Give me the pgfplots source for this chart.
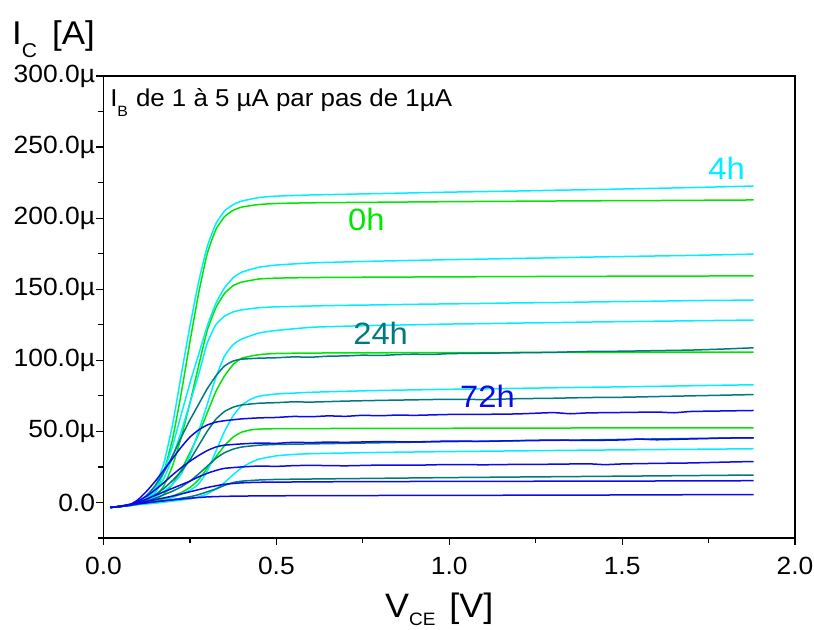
\documentclass[border=0pt]{standalone}
\usepackage{pgfplots}
\pgfplotsset{compat=1.18}
\usepackage{fontspec}
\setmainfont[FakeStretch=1.06]{Liberation Sans}
\definecolor{cgreen}{RGB}{0,230,0}
\definecolor{ccyan}{RGB}{0,238,255}
\definecolor{cteal}{RGB}{0,122,128}
\definecolor{cblue}{RGB}{10,10,235}
\begin{document}
\begin{tikzpicture}
\begin{axis}[
  at={(0,0)}, anchor=south west,
  scale only axis, width=691.5bp, height=462bp,
  xmin=0, xmax=2, ymin=-25, ymax=300,
  xtick={0,0.5,1,1.5,2}, xticklabels={0.0,0.5,1.0,1.5,2.0},
  ytick={0,50,100,150,200,250,300},
  yticklabels={0.0,50.0µ,100.0µ,150.0µ,200.0µ,250.0µ,300.0µ},
  minor xtick={0.25,0.75,1.25,1.75},
  minor ytick={-25,25,75,125,175,225,275},
  tick pos=left, tick align=outside,
  major tick length=7bp, minor tick length=5bp,
  tick style={black, line width=1.2bp},
  axis line style={line width=1.3bp},
  tick label style={font=\fontsize{25}{28}\selectfont},
  yticklabel style={xshift=2bp},
  xticklabel style={yshift=-9bp},
  xlabel={V\raisebox{-8bp}{\fontsize{18}{18}\selectfont CE}\hspace{14bp}[V]},
  xlabel style={at={(axis description cs:0.407,0)}, anchor=base west, yshift=-79bp, inner sep=0pt, font=\fontsize{34}{36}\selectfont},
  ylabel={I\raisebox{-13bp}{\fontsize{20}{20}\selectfont C}\hspace{15bp}[A]},
  ylabel style={at={(axis description cs:0,1)}, rotate=-90, anchor=base west, xshift=-91.5bp, yshift=31bp, inner sep=0pt, font=\fontsize{33}{35}\selectfont},
  every axis plot/.append style={line width=1.5bp, no marks, line join=round, smooth, tension=0.3},
]
% ---------- 0h (green) ----------
\addplot[cgreen] coordinates {(0.02,-3.5)(0.05,-2.8)(0.08,-2)(0.10,-1)(0.125,1.5)(0.15,7)(0.175,22)(0.20,45)(0.225,77)(0.25,113)(0.275,147)(0.30,175)(0.325,192)(0.35,201)(0.375,205.5)(0.40,207.8)(0.45,209.6)(0.50,210.3)(0.60,210.8)(0.80,211.2)(1.00,211.6)(1.20,211.9)(1.40,212.2)(1.60,212.4)(1.88,212.8)};
\addplot[cgreen] coordinates {(0.02,-3.5)(0.05,-2.8)(0.08,-2)(0.10,-1.2)(0.125,0.5)(0.15,4)(0.175,12)(0.20,26)(0.225,46)(0.25,70)(0.275,96)(0.30,121)(0.325,137)(0.35,147)(0.375,152.5)(0.40,155)(0.45,157.2)(0.50,157.8)(0.60,158.2)(0.80,158.5)(1.00,158.7)(1.20,158.9)(1.40,159.1)(1.60,159.2)(1.88,159.4)};
\addplot[cgreen] coordinates {(0.02,-3.5)(0.05,-2.8)(0.08,-2)(0.10,-1.2)(0.125,0)(0.15,2)(0.175,6)(0.20,13)(0.225,23)(0.25,35)(0.275,48)(0.30,63)(0.325,78)(0.35,89)(0.375,97)(0.40,101.5)(0.45,104)(0.50,104.8)(0.60,105.1)(0.80,105.3)(1.00,105.4)(1.20,105.5)(1.40,105.6)(1.60,105.7)(1.88,105.8)};
\addplot[cgreen] coordinates {(0.02,-3.5)(0.05,-2.8)(0.08,-2)(0.10,-1.3)(0.125,-0.3)(0.15,1)(0.175,2.5)(0.20,4.5)(0.225,7)(0.25,10.5)(0.275,16)(0.30,24)(0.325,32)(0.35,40)(0.375,46)(0.40,49.5)(0.425,51)(0.45,51.6)(0.50,51.9)(0.60,52)(0.80,52.1)(1.00,52.2)(1.20,52.3)(1.40,52.4)(1.88,52.5)};
% ---------- 4h (cyan) ----------
\addplot[ccyan] coordinates {(0.02,-3.5)(0.05,-2.8)(0.08,-1.8)(0.10,-0.5)(0.125,3)(0.15,11)(0.175,28)(0.20,55)(0.225,90)(0.25,124)(0.275,155)(0.30,180)(0.325,196)(0.35,205)(0.375,209.5)(0.40,212)(0.45,214.5)(0.50,215.5)(0.60,216.3)(0.70,216.8)(0.80,217.3)(0.90,217.8)(1.00,218.3)(1.10,218.7)(1.20,219.1)(1.30,219.6)(1.40,220)(1.50,220.5)(1.60,221)(1.70,221.5)(1.80,222.1)(1.88,222.6)};
\addplot[ccyan] coordinates {(0.02,-3.5)(0.05,-2.8)(0.08,-1.8)(0.10,-0.5)(0.125,2.5)(0.15,9)(0.175,22)(0.20,40)(0.225,62)(0.25,84)(0.275,104)(0.30,124)(0.325,140)(0.35,151)(0.375,158)(0.40,162)(0.45,165.5)(0.50,167)(0.60,168.5)(0.70,169.2)(0.80,169.8)(0.90,170.3)(1.00,170.8)(1.10,171.2)(1.20,171.7)(1.30,172.1)(1.40,172.6)(1.50,173)(1.60,173.4)(1.70,173.8)(1.80,174.3)(1.88,174.7)};
\addplot[ccyan] coordinates {(0.02,-3.5)(0.05,-2.8)(0.08,-1.8)(0.10,-0.5)(0.125,2)(0.15,7)(0.175,17)(0.20,32)(0.225,50)(0.25,70)(0.275,90)(0.30,112)(0.325,125)(0.35,131)(0.375,134)(0.40,135.5)(0.45,137)(0.50,137.6)(0.60,138.2)(0.70,138.7)(0.80,139)(0.90,139.4)(1.00,139.7)(1.10,140)(1.20,140.4)(1.30,140.6)(1.40,141)(1.50,141.3)(1.60,141.6)(1.70,142)(1.80,142.2)(1.88,142.4)};
\addplot[ccyan] coordinates {(0.02,-3.5)(0.05,-2.8)(0.08,-2)(0.10,-1)(0.125,1)(0.15,4)(0.175,8)(0.20,13)(0.225,20)(0.25,33)(0.275,50)(0.30,69)(0.325,88)(0.35,103)(0.375,111)(0.40,115)(0.45,119.2)(0.50,121)(0.60,123.2)(0.70,124)(0.80,124.6)(0.90,125)(1.00,125.5)(1.10,125.8)(1.20,126.2)(1.30,126.5)(1.40,126.9)(1.50,127.2)(1.60,127.5)(1.70,127.8)(1.80,128.1)(1.88,128.3)};
\addplot[ccyan] coordinates {(0.02,-3.5)(0.05,-2.8)(0.08,-2)(0.10,-1.2)(0.15,0)(0.175,1.5)(0.20,3.5)(0.225,6)(0.25,8.5)(0.275,13)(0.30,22)(0.325,36)(0.35,50)(0.375,61)(0.40,68.5)(0.425,72.5)(0.45,74.8)(0.50,76.3)(0.60,77.5)(0.70,78.2)(0.80,78.8)(0.90,79.2)(1.00,79.6)(1.20,80.3)(1.40,81)(1.60,81.7)(1.80,82.5)(1.88,82.8)};
\addplot[ccyan] coordinates {(0.02,-3.5)(0.05,-2.8)(0.08,-2)(0.10,-1.5)(0.15,-0.5)(0.20,1)(0.25,2.5)(0.275,4)(0.30,6)(0.325,9.5)(0.35,14)(0.375,19.5)(0.40,24.5)(0.425,28)(0.45,30.5)(0.50,32.8)(0.55,33.8)(0.60,34.3)(0.70,34.8)(0.80,35.2)(0.90,35.5)(1.00,35.8)(1.20,36.3)(1.40,36.8)(1.60,37.2)(1.80,37.6)(1.88,37.8)};
% ---------- 24h (teal) ----------
\addplot[cteal] coordinates {(0.02,-3.5)(0.05,-2.8)(0.08,-1.5)(0.10,0.5)(0.125,5)(0.15,12)(0.175,21.5)(0.20,33)(0.225,46)(0.25,58)(0.275,69)(0.30,80)(0.325,89)(0.35,96)(0.375,99.5)(0.40,100.8)(0.45,101.5)(0.50,101.8)(0.55,102.4)(0.60,102.2)(0.65,102.9)(0.70,103.1)(0.75,103.6)(0.80,103.4)(0.85,104)(0.90,104.3)(0.95,104.1)(1.00,104.7)(1.10,105)(1.20,105.3)(1.30,105.6)(1.40,106.2)(1.50,106.4)(1.60,106.8)(1.70,107.2)(1.80,108)(1.88,108.8)};
\addplot[cteal] coordinates {(0.02,-3.5)(0.05,-2.8)(0.08,-1.8)(0.10,-0.5)(0.125,2)(0.15,5.5)(0.175,10)(0.20,15.5)(0.225,22)(0.25,30)(0.275,40)(0.30,50)(0.325,58.5)(0.35,64)(0.375,67)(0.40,68.6)(0.45,69.8)(0.50,70.2)(0.55,70.8)(0.60,70.6)(0.70,71.3)(0.80,71.8)(0.90,72.2)(1.00,72.6)(1.10,72.4)(1.20,73)(1.30,73.3)(1.40,73.8)(1.50,74)(1.60,74.5)(1.70,75)(1.80,75.5)(1.88,75.9)};
\addplot[cteal] coordinates {(0.02,-3.5)(0.05,-2.8)(0.08,-1.8)(0.10,-0.8)(0.125,1)(0.15,3)(0.175,5.5)(0.20,8)(0.225,11)(0.25,15)(0.275,20)(0.30,25.5)(0.325,31)(0.35,35)(0.375,37.5)(0.40,39)(0.45,40.3)(0.50,40.8)(0.60,41.2)(0.70,41.6)(0.80,42)(0.90,42.4)(1.00,42.8)(1.20,43.4)(1.40,44)(1.60,44.7)(1.80,45.3)(1.88,45.5)};
\addplot[cteal] coordinates {(0.02,-3.5)(0.05,-2.8)(0.08,-1.8)(0.10,-1)(0.15,0.5)(0.20,2)(0.25,4)(0.275,5.5)(0.30,7.5)(0.325,9.5)(0.35,12)(0.375,14)(0.40,15)(0.45,15.8)(0.50,16.2)(0.60,16.5)(0.80,17)(1.00,17.5)(1.20,17.9)(1.40,18.3)(1.60,18.7)(1.88,19.3)};
% ---------- 72h (blue) ----------
\addplot[cblue] coordinates {(0.02,-3.5)(0.05,-2.5)(0.08,-1)(0.10,2)(0.125,8)(0.15,15)(0.175,23)(0.20,31)(0.225,39)(0.25,46)(0.275,51)(0.30,54.5)(0.325,56.5)(0.35,57.5)(0.40,58.8)(0.45,59.5)(0.50,59.8)(0.55,60.5)(0.60,60.3)(0.65,60.9)(0.70,60.6)(0.75,61.3)(0.80,61)(0.85,61.5)(0.90,61.3)(1.00,61.9)(1.10,62)(1.20,62.3)(1.30,63.2)(1.35,62.4)(1.40,63)(1.50,63.3)(1.60,63.6)(1.65,63.1)(1.70,64)(1.80,64.4)(1.88,64.7)};
\addplot[cblue] coordinates {(0.02,-3.5)(0.05,-2.6)(0.08,-1.2)(0.10,1)(0.125,4.5)(0.15,9)(0.175,14)(0.20,19.5)(0.225,24.5)(0.25,29)(0.275,33)(0.30,36.5)(0.325,39)(0.35,40.3)(0.40,41.2)(0.45,41.8)(0.50,41.6)(0.55,42.3)(0.60,42.1)(0.65,42.5)(0.70,42.3)(0.80,42.8)(0.90,42.6)(1.00,43.2)(1.10,43)(1.20,43.5)(1.30,43.9)(1.40,43.6)(1.50,44)(1.55,44.6)(1.60,44.1)(1.70,44.7)(1.80,45.3)(1.88,45.5)};
\addplot[cblue] coordinates {(0.02,-3.5)(0.05,-2.7)(0.08,-1.5)(0.10,0)(0.125,2.5)(0.15,5)(0.175,7.5)(0.20,10)(0.225,12.5)(0.25,15)(0.275,18)(0.30,20.5)(0.325,22.5)(0.35,24)(0.40,25)(0.45,25.6)(0.50,25.4)(0.55,25.9)(0.60,26.1)(0.70,25.8)(0.80,26.3)(0.90,26.2)(1.00,26.7)(1.10,26.5)(1.20,26.8)(1.30,26.9)(1.40,27.2)(1.45,26.6)(1.50,27.1)(1.60,27.5)(1.70,27.8)(1.80,28.4)(1.88,28.8)};
\addplot[cblue] coordinates {(0.02,-3.5)(0.05,-2.8)(0.08,-1.5)(0.10,-0.5)(0.15,2)(0.20,4.5)(0.25,7.5)(0.30,10.5)(0.35,12.8)(0.40,13.8)(0.45,14.2)(0.50,14.3)(0.60,14.5)(0.80,14.7)(1.00,14.8)(1.20,14.9)(1.40,15)(1.60,15.1)(1.88,15.3)};
\addplot[cblue] coordinates {(0.02,-3.5)(0.05,-2.8)(0.08,-1.8)(0.10,-1)(0.15,0.5)(0.20,1.8)(0.25,3)(0.30,3.9)(0.35,4.3)(0.40,4.5)(0.50,4.7)(0.80,4.9)(1.00,5)(1.40,5.2)(1.88,5.6)};
% ---------- labels ----------
\node[anchor=base west, inner sep=0pt, font=\fontsize{24.5}{27}\selectfont] at (axis cs:0.019,278.2) {I\raisebox{-10bp}{\fontsize{15}{15}\selectfont B}\hspace{8bp}de 1 à 5 µA par pas de 1µA};
\node[anchor=base west, inner sep=0pt, text=ccyan, font=\fontsize{31}{33}\selectfont] at (axis cs:1.749,226.9) {4h};
\node[anchor=base west, inner sep=0pt, text=cgreen, font=\fontsize{31}{33}\selectfont] at (axis cs:0.707,191.6) {0h};
\node[anchor=base west, inner sep=0pt, text=cteal, font=\fontsize{31}{33}\selectfont] at (axis cs:0.722,110.9) {24h};
\node[anchor=base west, inner sep=0pt, text=cblue, font=\fontsize{31}{33}\selectfont] at (axis cs:1.031,66.6) {72h};
\end{axis}
\pgfresetboundingbox
\useasboundingbox (-103.5bp,-92bp) rectangle (710.5bp,538bp);
\end{tikzpicture}
\end{document}
